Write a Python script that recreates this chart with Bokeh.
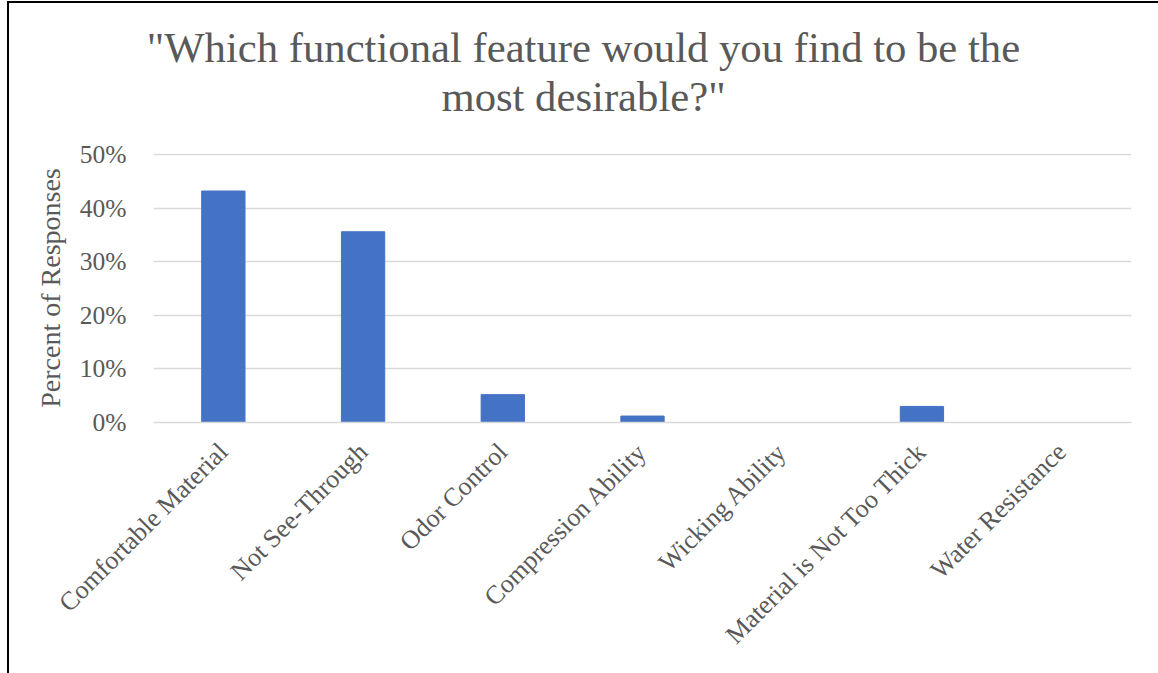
from math import pi
from bokeh.plotting import figure
from bokeh.layouts import column
from bokeh.models import FixedTicker, PrintfTickFormatter, Range1d, Div
from bokeh.embed import file_html
from bokeh.resources import INLINE

categories = ["Comfortable Material", "Not See-Through", "Odor Control",
              "Compression Ability", "Wicking Ability", "Material is Not Too Thick",
              "Water Resistance"]
percent_values = [43.2, 35.6, 5.2, 1.2, 0.0, 3.0, 0.0]
y_ticks = [0, 10, 20, 30, 40, 50]
title_lines = ['"Which functional feature would you find to be the', 'most desirable?"']

FONT = "Liberation Serif"
GRAY = "#595959"
W = 1149
TITLE_H = 120

# --- title (two centred lines) ---
title_html = ('<div style="width:%dpx;margin:0;padding:20px 0 0 0;text-align:center;'
              'font-family:\'Liberation Serif\';font-size:42.7px;line-height:49px;'
              'color:%s;white-space:nowrap;">%s<br>%s</div>'
              % (W, GRAY, title_lines[0].replace('"', '&quot;'),
                 title_lines[1].replace('"', '&quot;')))
t = Div(text=title_html, width=W, height=TITLE_H, margin=0)

# --- chart ---
p = figure(x_range=categories, y_range=Range1d(0, 50.2),
           width=W, height=670 - TITLE_H, output_backend="svg", toolbar_location=None,
           min_border_left=144, min_border_right=27, min_border_top=30,
           min_border_bottom=251)
p.title = None
p.outline_line_color = None

p.vbar(x=categories, top=percent_values, width=0.31, fill_color="#4472C4",
       line_color="#4472C4")

p.xgrid.grid_line_color = None
p.ygrid.grid_line_color = "#D9D9D9"
p.ygrid.grid_line_width = 1.5
p.yaxis.ticker = FixedTicker(ticks=y_ticks)
p.yaxis.formatter = PrintfTickFormatter(format="%d%%")
p.yaxis.axis_line_color = None
p.yaxis.major_tick_line_color = None
p.yaxis.minor_tick_line_color = None
p.yaxis.major_label_standoff = 21
p.yaxis.major_label_text_font = FONT
p.yaxis.major_label_text_font_size = "25.5px"
p.yaxis.major_label_text_color = GRAY
p.yaxis.axis_label = "Percent of Responses"
p.yaxis.axis_label_text_font = FONT
p.yaxis.axis_label_text_font_size = "28px"
p.yaxis.axis_label_text_font_style = "normal"
p.yaxis.axis_label_text_color = GRAY
p.yaxis.axis_label_standoff = 11

p.xaxis.axis_line_color = "#D9D9D9"
p.xaxis.axis_line_width = 1.5
p.xaxis.major_tick_line_color = None
p.xaxis.minor_tick_line_color = None
p.xaxis.major_label_orientation = pi / 4
p.xaxis.major_label_standoff = 19
p.xaxis.major_label_text_font = FONT
p.xaxis.major_label_text_font_size = "26px"
p.xaxis.major_label_text_color = GRAY

layout = column(t, p, spacing=0)
layout.styles = {"margin-left": "7px", "margin-top": "1px",
                 "border-left": "2px solid #000000", "border-top": "2px solid #000000"}

open("out.html", "w").write(file_html(layout, INLINE))
